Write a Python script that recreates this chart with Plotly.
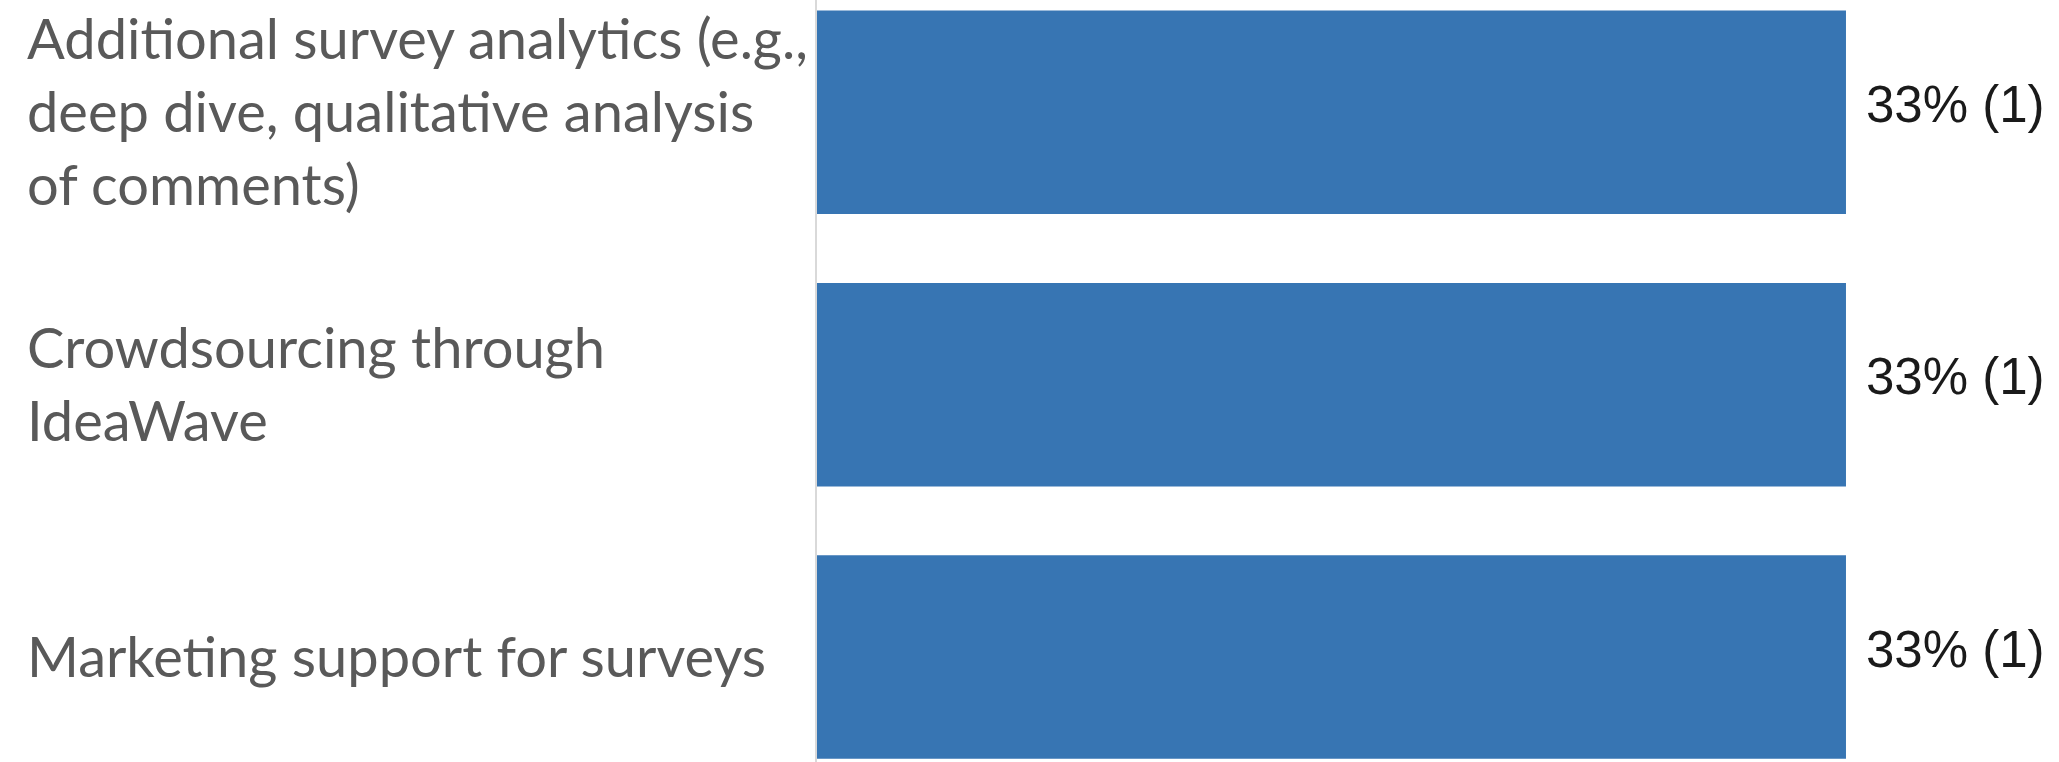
import plotly.graph_objects as go

categories = [
    "Additional survey analytics (e.g.,<br>deep dive, qualitative analysis<br>of comments)",
    "Crowdsourcing through<br>IdeaWave",
    "Marketing support for surveys",
]
percent_values = [33.33, 33.33, 33.33]
counts = [1, 1, 1]
value_labels = [f"{round(v)}% ({c})" for v, c in zip(percent_values, counts)]

W, H = 2059, 762
L = 817

fig = go.Figure()
fig.add_trace(go.Bar(
    y=categories,
    x=percent_values,
    orientation="h",
    marker=dict(color="#3775b3", line=dict(width=0)),
    hoverinfo="skip",
))

annotations = []
for cat, v, lab in zip(categories, percent_values, value_labels):
    annotations.append(dict(
        x=v, y=cat, xref="x", yref="y", text=lab, showarrow=False,
        xanchor="left", yanchor="middle", xshift=18, yshift=8,
        font=dict(family="Liberation Sans, Arial", size=51, color="#1a1a1a"),
    ))
    annotations.append(dict(
        x=(25 - L) / (W - L), y=cat, xref="paper", yref="y", text=cat,
        showarrow=False, xanchor="left", yanchor="middle", align="left",
        yshift=2,
        font=dict(family="Lato", size=56, color="#595959"),
    ))

fig.update_layout(
    width=W, height=H,
    margin=dict(l=L, r=0, t=0, b=0, pad=0),
    paper_bgcolor="white", plot_bgcolor="white",
    bargap=0.253,
    showlegend=False,
    annotations=annotations,
    xaxis=dict(range=[0, 40.23], visible=False, fixedrange=True),
    yaxis=dict(
        type="category", categoryorder="array", categoryarray=categories,
        range=[2.385, -0.412], showticklabels=False, ticks="",
        showgrid=False, zeroline=False,
        showline=True, linecolor="#d9d9d9", linewidth=2,
    ),
)

fig.write_html("out.html")
